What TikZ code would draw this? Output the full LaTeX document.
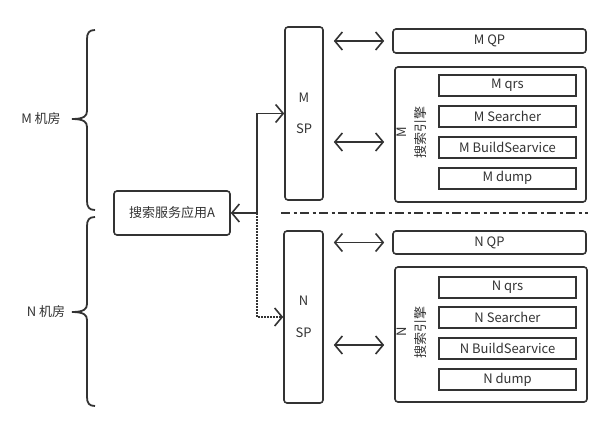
\documentclass[tikz,border=0pt]{standalone}
\usepackage{fontspec}
\setmainfont{Noto Sans CJK SC}
\usetikzlibrary{arrows.meta,calc}
\definecolor{ink}{HTML}{333333}
\tikzset{
  box/.style={draw=ink,line width=1.6pt,rounded corners=3pt,inner sep=0pt,text=ink,font=\fontsize{13}{15.5}\selectfont},
  inbox/.style={draw=ink,line width=2pt,inner sep=0pt,minimum width=137pt,minimum height=21pt,text=ink,font=\fontsize{13}{15.5}\selectfont},
  lbl/.style={text=ink,inner sep=0pt,font=\fontsize{13}{15.5}\selectfont},
  conn/.style={draw=ink,line width=1.6pt,arrows={Straight Barb[length=7.5pt,width=18pt,line width=1.6pt]-Straight Barb[length=7.5pt,width=18pt,line width=1.6pt]}},
  brace/.style={draw=ink,line width=1.8pt},
}
\begin{document}
\begin{tikzpicture}[x=1pt,y=-1pt]
\useasboundingbox[fill=white] (0,0) rectangle (616,439);
% braces
\draw[brace] (95,30) .. controls (89,30) and (87,33) .. (87,39) -- (87,111) .. controls (87,116) and (84,119) .. (72,119)
  .. controls (84,119) and (87,122) .. (87,127) -- (87,201) .. controls (87,207) and (89,210) .. (95,210);
\draw[brace] (95,217) .. controls (89,217) and (87,220) .. (87,226) -- (87,304) .. controls (87,309) and (84,312) .. (72,312)
  .. controls (84,312) and (87,315) .. (87,320) -- (87,397) .. controls (87,403) and (89,406) .. (95,406);
\node[lbl] (mroom) at (41,119) {M 机房};
\node[lbl] (nroom) at (46,312) {N 机房};
% main app
\node[box,minimum width=116pt,minimum height=44pt] (A) at (172,213) {搜索服务应用A};
% SP boxes
\node[box,minimum width=38pt,minimum height=173pt,align=center] (MSP) at (304,113.5) {M\\[16pt]SP};
\node[box,minimum width=39pt,minimum height=172pt,align=center] (NSP) at (303.5,317) {N\\[16pt]SP};
% QP boxes
\node[box,minimum width=193pt,minimum height=24pt] (MQP) at (489.5,41) {M QP};
\node[box,minimum width=193pt,minimum height=23pt] (NQP) at (489.5,242.5) {N QP};
% engines
\node[box,minimum width=191pt,minimum height=135pt] (MEng) at (490.5,134.5) {};
\node[box,minimum width=192pt,minimum height=135pt] (NEng) at (491,334.5) {};
\node[lbl,rotate=90,align=center] (MEngL) at (412,132) {M\\[4pt]搜索引擎};
\node[lbl,rotate=90,align=center] (NEngL) at (412,332) {N\\[4pt]搜索引擎};
% inner boxes
\node[inbox] (Mqrs) at (507.5,85.5) {M qrs};
\node[inbox] (Msearch) at (507.5,116.5) {M Searcher};
\node[inbox] (Mbuild) at (507.5,147.5) {M BuildSearvice};
\node[inbox] (Mdump) at (507.5,178) {M dump};
\node[inbox] (Nqrs) at (507.5,287) {N qrs};
\node[inbox] (Nsearch) at (507.5,317.5) {N Searcher};
\node[inbox] (Nbuild) at (507.5,348.5) {N BuildSearvice};
\node[inbox] (Ndump) at (507.5,379.5) {N dump};
% separator
\coordinate (sepL) at (281,213);
\coordinate (sepR) at (588,213);
\draw[draw=ink,line width=2pt,dash pattern=on 9pt off 3.5pt on 3pt off 3.5pt] (sepL) -- (sepR);
% connectors SP <-> QP / engine
\draw[conn,shorten <=10pt,shorten >=8pt] (MSP.east |- MQP.west) -- (MQP.west);
\draw[conn,shorten <=10pt,shorten >=10pt] ($(MSP.east |- MEng.west)+(0,7.5)$) -- ($(MEng.west)+(0,7.5)$);
\draw[conn,shorten <=10pt,shorten >=8pt] (NSP.east |- NQP.west) -- (NQP.west);
\draw[conn,shorten <=10pt,shorten >=10pt] ($(NSP.east |- NEng.west)+(0,10.5)$) -- ($(NEng.west)+(0,10.5)$);
% app connectors
\coordinate (j) at (257,213);
\draw[conn] (A.east) -- (j) |- (MSP.west);
\draw[draw=ink,line width=1.6pt,dash pattern=on 1.5pt off 1.5pt,-{Straight Barb[length=7.5pt,width=18pt,line width=1.6pt]}] (j) |- (NSP.west);
\end{tikzpicture}
\end{document}
